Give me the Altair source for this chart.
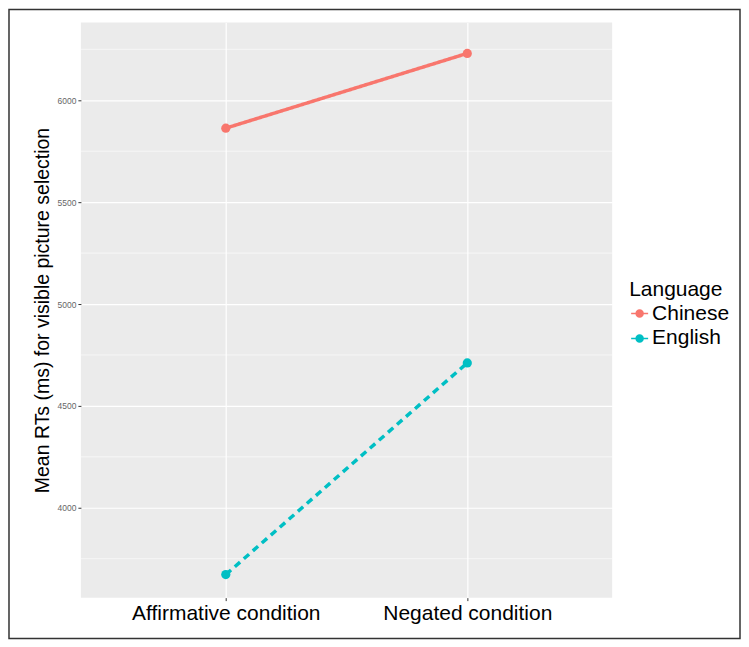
import altair as alt
import pandas as pd

conditions = ["Affirmative condition", "Negated condition"]
languages = ["Chinese", "English"]
chinese_rt = [5863, 6230]
english_rt = [3672, 4711]
major_ticks = [4000, 4500, 5000, 5500, 6000]
minor_ticks = [3750, 4250, 4750, 5250, 5750, 6250]
colors = ["#F8766D", "#00BFC4"]

rows = []
for c, v in zip(conditions, chinese_rt):
    rows.append({"Condition": c, "Language": "Chinese", "RT": v})
for c, v in zip(conditions, english_rt):
    rows.append({"Condition": c, "Language": "English", "RT": v})
df = pd.DataFrame(rows)
minor_df = pd.DataFrame({"v": minor_ticks})

FONT = "Liberation Sans"
W, H = 532, 576

xenc = alt.X("Condition:N", sort=conditions,
             scale=alt.Scale(type="point", padding=0.6),
             axis=alt.Axis(title=None, labelFontSize=21, labelColor="#000000",
                           labelFont=FONT, labelAngle=0, labelLimit=400,
                           tickColor="#333333",
                           tickSize=3, labelPadding=2, domain=False,
                           grid=True, gridColor="#ffffff", gridWidth=1.2))
yscale = alt.Scale(domain=[3559, 6382], nice=False, zero=False)
yenc = alt.Y("RT:Q", scale=yscale,
             axis=alt.Axis(title="Mean RTs (ms) for visible picture selection",
                           titleFontSize=19.5, titleFont=FONT, titleFontWeight="normal",
                           titleColor="#000000", titlePadding=5,
                           values=major_ticks, format="d",
                           labelFontSize=8.5, labelFont=FONT,
                           labelColor="#666666", tickColor="#333333", tickSize=3,
                           labelPadding=2, domain=False, grid=True,
                           gridColor="#ffffff", gridWidth=1.2))

legend_path = ("M -1 -0.1 L 1 -0.1 L 1 0.1 L -1 0.1 Z "
               "M 0.5 0 A 0.5 0.5 0 1 1 -0.5 0 A 0.5 0.5 0 1 1 0.5 0 Z")

color = alt.Color("Language:N", scale=alt.Scale(domain=languages, range=colors),
                  legend=alt.Legend(title="Language", orient="none",
                                    legendX=549, legendY=257,
                                    titleFontSize=21, titleFont=FONT,
                                    titleFontWeight="normal", titleColor="#000000",
                                    labelFontSize=21, labelFont=FONT,
                                    labelColor="#000000", symbolType=legend_path,
                                    symbolSize=289, symbolStrokeWidth=0,
                                    rowPadding=3, labelOffset=2, titlePadding=3))

minor = alt.Chart(minor_df).mark_rule(color="#ffffff", strokeWidth=0.6).encode(
    y=alt.Y("v:Q", scale=yscale)
)

lines = alt.Chart(df).mark_line(strokeWidth=3.5).encode(
    x=xenc, y=yenc, color=color,
    strokeDash=alt.StrokeDash("Language:N",
                              scale=alt.Scale(domain=languages, range=[[1, 0], [7, 5]]),
                              legend=None),
)
points = alt.Chart(df).mark_point(filled=True, size=85, opacity=1).encode(
    x=xenc, y=yenc, color=alt.Color("Language:N", legend=None,
                                    scale=alt.Scale(domain=languages, range=colors))
)

frame = alt.Chart(pd.DataFrame({"a": [0]})).mark_rect(
    fill=None, stroke="#333333", strokeWidth=1.5
).encode(
    x=alt.value(-72), x2=alt.value(660), y=alt.value(-13), y2=alt.value(617)
)

chart = alt.layer(minor, lines, points, frame).properties(
    width=W, height=H, padding=0, background="#ffffff"
).configure_view(fill="#EBEBEB", stroke=None)

chart.save("out.html", embed_options={"renderer": "svg", "actions": False})
